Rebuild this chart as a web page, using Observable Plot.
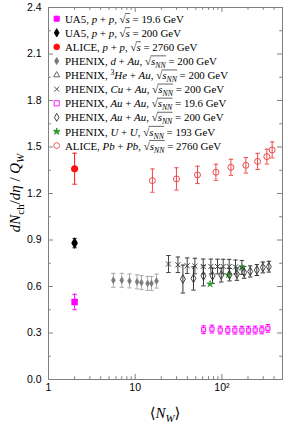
<!DOCTYPE html>
<html><head><meta charset="utf-8">
<script src="https://cdn.jsdelivr.net/npm/d3@7"></script>
<script src="https://cdn.jsdelivr.net/npm/@observablehq/plot@0.6"></script>
<style>body{margin:0;background:#fff} svg{display:block}</style>
</head><body><div id="chart"></div>
<script>
// ---------- data ----------
const ua5LowX = [2], ua5LowY = [0.50], ua5LowE = [0.05];
const ua5HighX = [2], ua5HighY = [0.88], ua5HighE = [0.03];
const alicePPX = [2], alicePPY = [1.36], alicePPE = [0.10];

const dAuX = [5.6, 7.0, 8.6, 10.5, 11.8, 13.9, 15.4, 17.6];
const dAuY = [0.640, 0.640, 0.636, 0.630, 0.625, 0.620, 0.620, 0.635];
const dAuE = [0.045, 0.045, 0.045, 0.045, 0.045, 0.045, 0.045, 0.045];

const cuAuX = [24.2, 31.1, 39.8, 48.8, 60.9, 74.6, 89, 103.5, 121.4, 143.5, 170];
const cuAuY = [0.745, 0.740, 0.734, 0.732, 0.729, 0.729, 0.729, 0.729, 0.729, 0.726, 0.723];
const cuAuE = [0.055, 0.050, 0.050, 0.050, 0.048, 0.048, 0.047, 0.047, 0.046, 0.045, 0.045];

const auAu200X = [35.5, 47, 61.3, 78, 98.2, 122.4, 149, 180.7, 212, 253, 297, 348];
const auAu200Y = [0.648, 0.652, 0.669, 0.669, 0.674, 0.676, 0.680, 0.691, 0.697, 0.706, 0.723, 0.728];
const auAu200E = [0.090, 0.075, 0.065, 0.050, 0.045, 0.040, 0.040, 0.038, 0.036, 0.035, 0.035, 0.035];

const auAu19X = [61.4, 76.7, 95.6, 117, 141, 170, 203, 242, 289, 339];
const auAu19Y = [0.321, 0.325, 0.319, 0.318, 0.318, 0.318, 0.318, 0.319, 0.320, 0.330];
const auAu19E = [0.025, 0.025, 0.025, 0.025, 0.025, 0.025, 0.025, 0.025, 0.025, 0.025];

const uuX = [73, 119, 170], uuY = [0.616, 0.674, 0.723], uuE = [0, 0, 0];

const pbPbX = [15.8, 29.9, 52.3, 85.3, 127, 189, 258, 330, 380];
const pbPbY = [1.283, 1.294, 1.320, 1.337, 1.369, 1.382, 1.407, 1.438, 1.481];
const pbPbE = [0.075, 0.072, 0.056, 0.052, 0.052, 0.050, 0.052, 0.048, 0.052];

const xMajor = [1, 10, 100];
const xMinor = [2,3,4,5,6,7,8,9,20,30,40,50,60,70,80,90,200,300,400];
const yMajor = [0, 0.3, 0.6, 0.9, 1.2, 1.5, 1.8, 2.1, 2.4];
const yMinor = [0.15, 0.45, 0.75, 1.05, 1.35, 1.65, 1.95, 2.25];
const xTickLabels = {1: "1", 10: "10", 100: "10²"};

// ---------- layout ----------
const W = 288, H = 424, mT = 7, mB = 45, mL = 48, mR = 6;
const iH = H - mT - mB, iW = W - mL - mR;

const rows = (xs, ys, es) => xs.map((x, i) => ({x, y: ys[i], e: es[i]}));
const capSym = {draw(ctx, size) { const r = Math.sqrt(size / Math.PI); ctx.moveTo(-r, 0); ctx.lineTo(r, 0); }};

function err(data, color, capR = 2.2) {
  const d = data.filter(v => v.e > 0);
  return [
    Plot.ruleX(d, {x: "x", y1: v => v.y - v.e, y2: v => v.y + v.e, stroke: color, strokeWidth: 1}),
    Plot.dot(d, {x: "x", y: v => v.y + v.e, symbol: capSym, r: capR, stroke: color, strokeWidth: 1}),
    Plot.dot(d, {x: "x", y: v => v.y - v.e, symbol: capSym, r: capR, stroke: color, strokeWidth: 1})
  ];
}

const ua5Low = rows(ua5LowX, ua5LowY, ua5LowE);
const ua5High = rows(ua5HighX, ua5HighY, ua5HighE);
const alicePP = rows(alicePPX, alicePPY, alicePPE);
const dAu = rows(dAuX, dAuY, dAuE);
const cuAu = rows(cuAuX, cuAuY, cuAuE);
const auAu200 = rows(auAu200X, auAu200Y, auAu200E);
const auAu19 = rows(auAu19X, auAu19Y, auAu19E);
const uu = rows(uuX, uuY, uuE);
const pbPb = rows(pbPbX, pbPbY, pbPbE);

const C = {mag: "#ff00ff", red: "#ff1010", pbpb: "#f04848", dau: "#7a7a7a", dauErr: "#a8a8a8",
  cu: "#404040", au: "#303030", uu: "#2e9a2e", tri: "#555", axis: "#808080"};

const chart = Plot.plot({
  width: W, height: H, marginTop: mT, marginBottom: mB, marginLeft: mL, marginRight: mR,
  style: {fontFamily: "'Liberation Sans', Arial, sans-serif", fontSize: "10.5px", color: "#000", background: "#fff"},
  x: {type: "log", domain: [1, 500], axis: null},
  y: {domain: [0, 2.4], axis: null},
  marks: [
    Plot.frame({stroke: C.axis}),
    Plot.ruleX(xMajor, {x: d => d, insetTop: iH - 5, stroke: C.axis}),
    Plot.ruleX(xMajor, {x: d => d, insetBottom: iH - 5, stroke: C.axis}),
    Plot.ruleX(xMinor, {x: d => d, insetTop: iH - 2.8, stroke: C.axis}),
    Plot.ruleX(xMinor, {x: d => d, insetBottom: iH - 2.8, stroke: C.axis}),
    Plot.ruleY(yMajor, {y: d => d, insetRight: iW - 5, stroke: C.axis}),
    Plot.ruleY(yMajor, {y: d => d, insetLeft: iW - 5, stroke: C.axis}),
    Plot.ruleY(yMinor, {y: d => d, insetRight: iW - 2.8, stroke: C.axis}),
    Plot.ruleY(yMinor, {y: d => d, insetLeft: iW - 2.8, stroke: C.axis}),
    Plot.axisX({ticks: xMajor, tickFormat: d => xTickLabels[d], tickSize: 0, tickPadding: 4, label: null, anchor: "bottom"}),
    Plot.axisY({ticks: yMajor, tickFormat: d3.format(".1f"), tickSize: 0, tickPadding: 7, label: null, anchor: "left"}),

    ...err(dAu, C.dauErr),
    ...err(auAu19, C.mag),
    ...err(cuAu, C.cu),
    ...err(auAu200, C.au),
    ...err(pbPb, C.pbpb),
    ...err(ua5Low, C.mag),
    ...err(ua5High, C.au),
    ...err(alicePP, C.red),

    Plot.dot(dAu, {x: "x", y: "y", symbol: "diamond", r: 2.1, fill: C.dau, stroke: C.dau, strokeWidth: 0.5}),
    Plot.dot(auAu19, {x: "x", y: "y", symbol: "square", r: 2.4, fill: "#f8c8f8", stroke: C.mag, strokeWidth: 0.9}),
    Plot.dot(uu, {x: "x", y: "y", symbol: "star", r: 2.2, fill: C.uu, stroke: C.uu, strokeWidth: 0.5}),
    Plot.dot(cuAu, {x: "x", y: "y", symbol: "times", r: 2.4, stroke: C.cu, strokeWidth: 1}),
    Plot.dot(auAu200, {x: "x", y: "y", symbol: "diamond", r: 2.6, fill: "none", stroke: C.au, strokeWidth: 0.9}),
    Plot.dot(pbPb, {x: "x", y: "y", r: 3, fill: "none", stroke: C.pbpb, strokeWidth: 1}),
    Plot.dot(ua5Low, {x: "x", y: "y", symbol: "square", r: 2.8, fill: C.mag, stroke: C.mag}),
    Plot.dot(ua5High, {x: "x", y: "y", symbol: "diamond", r: 2.6, fill: "#000", stroke: "#000"}),
    Plot.dot(alicePP, {x: "x", y: "y", r: 2.8, fill: C.red, stroke: C.red})
  ]
});
document.getElementById("chart").appendChild(chart);

// ---------- rich text helper ----------
const svg = d3.select(chart);
function rich(g, x, y, parts, fs, anchor = "start", transform = null) {
  const t = g.append("text").attr("x", x).attr("y", y)
    .attr("font-family", "'Liberation Serif', 'DejaVu Serif', serif")
    .attr("font-size", fs).attr("fill", "#000").attr("text-anchor", anchor);
  if (transform) t.attr("transform", transform);
  let cur = 0, idx = 0;
  const ov = [];
  parts.forEach(p => {
    const off = p.sub ? fs * 0.28 : p.sup ? -fs * 0.38 : 0;
    const ts = t.append("tspan").text(p.t).attr("dy", off - cur);
    cur = off;
    if (p.i) ts.attr("font-style", "italic");
    if (p.sub || p.sup) ts.attr("font-size", fs * 0.72);
    if (p.ov) ov.push([idx, idx + p.t.length - 1]);
    idx += p.t.length;
  });
  if (ov.length) {
    const n = t.node();
    const x0 = n.getStartPositionOfChar(ov[0][0]).x - 0.6;
    const x1 = n.getEndPositionOfChar(ov[ov.length - 1][1]).x + 0.3;
    g.append("line").attr("x1", x0).attr("x2", x1)
      .attr("y1", y - fs * 0.84).attr("y2", y - fs * 0.84)
      .attr("stroke", "#000").attr("stroke-width", 0.6);
  }
  return t;
}
const sq = (v) => [{t: ", √"}, {t: "s", i: 1, ov: 1}, {t: " = " + v + " GeV"}];
const sqNN = (v) => [{t: ", √"}, {t: "s", i: 1, ov: 1}, {t: "NN", i: 1, sub: 1, ov: 1}, {t: " = " + v + " GeV"}];

const legendItems = [
  {sym: d3.symbolSquare, size: 26, fill: C.mag, stroke: C.mag, parts: [{t: "UA5, "}, {t: "p", i: 1}, {t: " + "}, {t: "p", i: 1}, ...sq("19.6")]},
  {sym: d3.symbolDiamond, size: 20, fill: "#000", stroke: "#000", parts: [{t: "UA5, "}, {t: "p", i: 1}, {t: " + "}, {t: "p", i: 1}, ...sq("200")]},
  {sym: d3.symbolCircle, size: 26, fill: C.red, stroke: C.red, parts: [{t: "ALICE, "}, {t: "p", i: 1}, {t: " + "}, {t: "p", i: 1}, ...sq("2760")]},
  {sym: d3.symbolDiamond, size: 14, fill: C.dau, stroke: C.dau, parts: [{t: "PHENIX, "}, {t: "d", i: 1}, {t: " + "}, {t: "Au", i: 1}, ...sqNN("200")]},
  {sym: d3.symbolTriangle, size: 16, fill: "none", stroke: C.tri, parts: [{t: "PHENIX, "}, {t: "3", sup: 1}, {t: "He", i: 1}, {t: " + "}, {t: "Au", i: 1}, ...sqNN("200")]},
  {sym: d3.symbolTimes, size: 18, fill: "none", stroke: C.cu, parts: [{t: "PHENIX, "}, {t: "Cu", i: 1}, {t: " + "}, {t: "Au", i: 1}, ...sqNN("200")]},
  {sym: d3.symbolSquare, size: 26, fill: "none", stroke: C.mag, parts: [{t: "PHENIX, "}, {t: "Au", i: 1}, {t: " + "}, {t: "Au", i: 1}, ...sqNN("19.6")]},
  {sym: d3.symbolDiamond, size: 18, fill: "none", stroke: C.au, parts: [{t: "PHENIX, "}, {t: "Au", i: 1}, {t: " + "}, {t: "Au", i: 1}, ...sqNN("200")]},
  {sym: d3.symbolStar, size: 14, fill: C.uu, stroke: C.uu, parts: [{t: "PHENIX, "}, {t: "U", i: 1}, {t: " + "}, {t: "U", i: 1}, ...sqNN("193")]},
  {sym: d3.symbolCircle, size: 26, fill: "none", stroke: C.pbpb, parts: [{t: "ALICE, "}, {t: "Pb", i: 1}, {t: " + "}, {t: "Pb", i: 1}, ...sqNN("2760")]}
];
const lg = svg.append("g");
legendItems.forEach((it, k) => {
  const cy = 18.7 + k * 14.1;
  lg.append("path").attr("d", d3.symbol(it.sym, it.size)()).attr("transform", `translate(56.7,${cy})`)
    .attr("fill", it.fill).attr("stroke", it.stroke).attr("stroke-width", 0.9);
  rich(lg, 65, cy + 4, it.parts, 10.9);
});

// axis labels
rich(svg, 165, 418, [{t: "⟨"}, {t: "N", i: 1}, {t: "W", i: 1, sub: 1}, {t: "⟩"}], 15, "middle");
rich(svg, 0, 0, [{t: "dN", i: 1}, {t: "ch", sub: 1}, {t: "/"}, {t: "dη", i: 1}, {t: " / "}, {t: "Q", i: 1}, {t: "W", i: 1, sub: 1}], 15, "middle", "translate(20,193) rotate(-90)");
</script>
</body></html>
